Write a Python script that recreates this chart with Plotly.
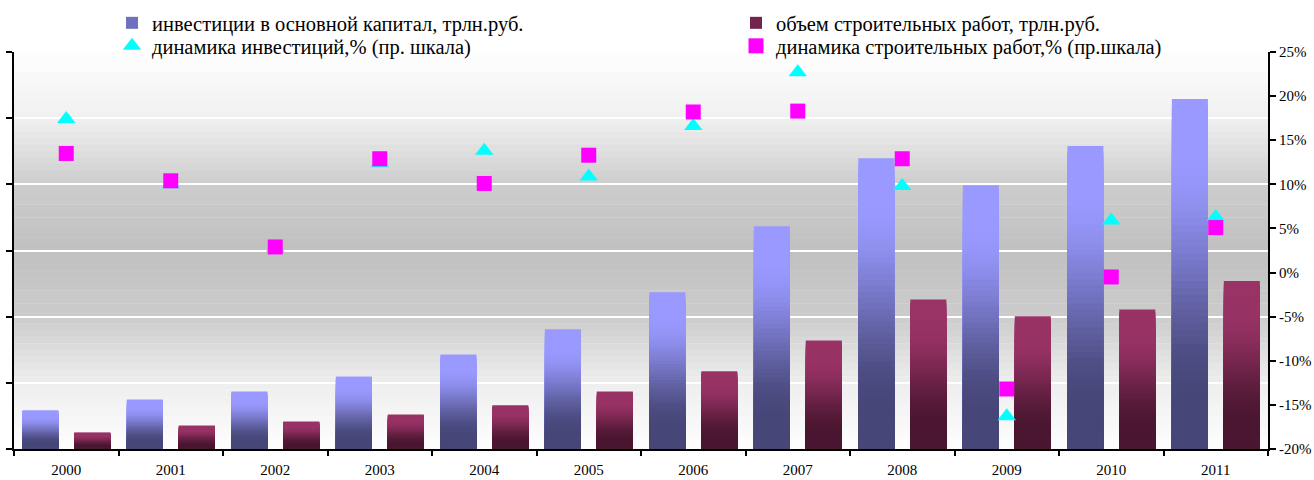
import numpy as np
import plotly.graph_objects as go

# data
years = ['2000', '2001', '2002', '2003', '2004', '2005', '2006', '2007', '2008', '2009', '2010', '2011']
investments = [1.17, 1.50, 1.74, 2.19, 2.86, 3.62, 4.74, 6.73, 8.79, 7.97, 9.16, 10.58]  # трлн.руб.
construction = [0.50, 0.71, 0.83, 1.04, 1.32, 1.74, 2.35, 3.28, 4.52, 4.01, 4.22, 5.08]  # трлн.руб.
inv_growth = [17.4, 10.0, 2.8, 12.4, 13.8, 10.9, 16.6, 22.7, 9.8, -16.3, 5.9, 6.3]  # %
con_growth = [13.5, 10.4, 2.9, 12.9, 10.1, 13.3, 18.2, 18.3, 12.9, -13.2, -0.5, 5.1]  # %

right_ticks = [-20, -15, -10, -5, 0, 5, 10, 15, 20, 25]
right_labels = ['-20%', '-15%', '-10%', '-5%', '0%', '5%', '10%', '15%', '20%', '25%']
left_ticks = [0, 2, 4, 6, 8, 10, 12]

names = ['инвестиции в основной капитал, трлн.руб.',
         'объем строительных работ, трлн.руб.',
         'динамика инвестиций,% (пр. шкала)',
         'динамика строительных работ,% (пр.шкала)']

FONT = 'Liberation Serif, Times New Roman, serif'
N = 50  # slices used to fake the vertical gradient of the bars


def mix(c1, c2, s):
    c = [round(a + (b - a) * s) for a, b in zip(c1, c2)]
    return 'rgb(%d,%d,%d)' % tuple(c)


def grad(t):
    # t = position from bar top (0) to bar bottom (1)
    s = min(max((t - 0.15) / 0.72, 0), 1)
    return s * s * (3 - 2 * s)


fig = go.Figure()

bar_series = [
    (investments, names[0], (153, 153, 255), (70, 70, 120), -0.42, 'legend'),
    (construction, names[1], (153, 51, 102), (74, 22, 48), 0.077, 'legend2'),
]
for values, name, light, dark, off, leg in bar_series:
    vals = np.array(values)
    for k in range(N):
        # tallest first, then shorter/darker bars drawn on top -> gradient
        col = mix(light, dark, grad((k + 0.5) / N))
        fig.add_trace(go.Bar(
            x=years, y=vals * (N - k) / N, base=0,
            offset=off, width=0.345,
            marker=dict(color=col, line=dict(width=0)),
            name=name, legendgroup=name,
            showlegend=(k == N // 2), legend=leg,
            hoverinfo='skip' if k else None,
        ))

fig.add_trace(go.Scatter(
    x=years, y=inv_growth, yaxis='y2', mode='markers', name=names[2],
    marker=dict(symbol='triangle-up', size=16, color='#00FFFF', line=dict(width=0)),
    legend='legend3',
))
fig.add_trace(go.Scatter(
    x=years, y=con_growth, yaxis='y2', mode='markers', name=names[3],
    marker=dict(symbol='square', size=15, color='#FF00FF', line=dict(width=0)),
    legend='legend4',
))

# grey background: white at top and bottom, darker in the middle
bg_f = [0, 0.167, 0.333, 0.5, 0.667, 0.833, 1]
bg_g = [254, 240, 205, 192, 204, 238, 254]
M = 60
shapes = []
for i in range(M):
    g = int(round(np.interp((i + 0.5) / M, bg_f, bg_g)))
    shapes.append(dict(type='rect', xref='paper', yref='paper', x0=0, x1=1,
                       y0=1 - (i + 1) / M - 0.001, y1=1 - i / M,
                       fillcolor='rgb(%d,%d,%d)' % (g, g, g),
                       line=dict(width=0), layer='below'))


def legend_at(px, py):
    return dict(orientation='h', xref='container', yref='container',
                x=px / 1314, xanchor='left', y=1 - py / 480, yanchor='middle',
                bgcolor='rgba(0,0,0,0)', borderwidth=0,
                font=dict(family=FONT, size=20.5, color='black'))


fig.update_layout(
    width=1314, height=480,
    margin=dict(l=14, r=46, t=52, b=31, autoexpand=False),
    paper_bgcolor='white', plot_bgcolor='white',
    barmode='overlay',
    font=dict(family=FONT, size=15, color='black'),
    shapes=shapes,
    legend=legend_at(112, 23),
    legend2=legend_at(736, 23),
    legend3=legend_at(112, 46),
    legend4=legend_at(736, 46),
    xaxis=dict(type='category', range=[-0.5, 11.5], tickson='boundaries',
               ticks='outside', ticklen=5, tickwidth=2, tickcolor='black',
               showline=True, linecolor='black', linewidth=2, showgrid=False,
               ticklabelstandoff=6, tickfont=dict(family=FONT, size=15)),
    yaxis=dict(range=[0, 12], tickvals=left_ticks, showticklabels=False,
               ticks='outside', ticklen=6, tickwidth=2, tickcolor='black',
               showline=True, linecolor='black', linewidth=2,
               showgrid=True, gridcolor='white', gridwidth=2, zeroline=False),
    yaxis2=dict(overlaying='y', side='right', range=[-20, 25],
                tickvals=right_ticks, ticktext=right_labels,
                ticks='outside', ticklen=6, tickwidth=2, tickcolor='black',
                showline=True, linecolor='black', linewidth=2,
                showgrid=False, zeroline=False,
                tickfont=dict(family=FONT, size=15)),
)

# the default page has an 8px body margin; drop it so the figure sits at 0,0
fig.write_html('out.html', config={'displayModeBar': False},
               post_script="document.body.style.margin='0';")
